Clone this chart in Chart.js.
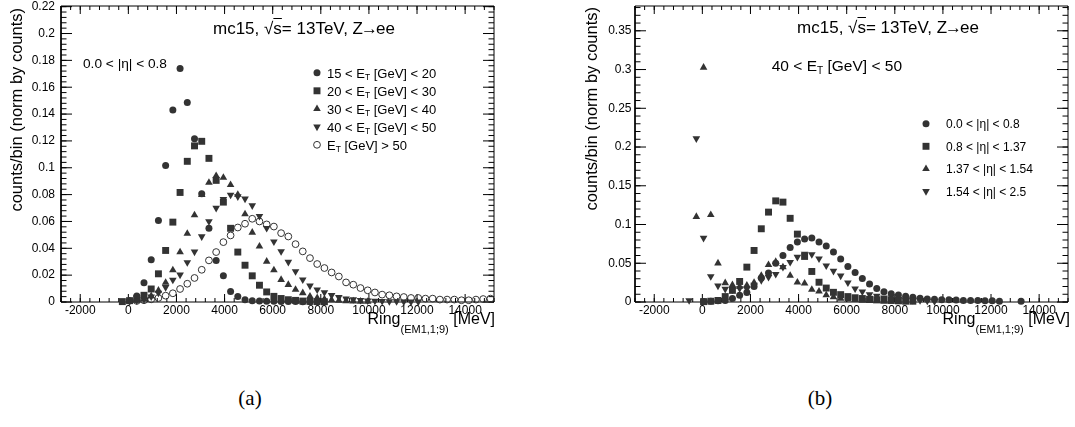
<!DOCTYPE html>
<html lang="en">
<head>
<meta charset="UTF-8">
<title>Ring EM1 distributions</title>
<script src="https://cdn.jsdelivr.net/npm/chart.js"></script>
<style>
  html, body { margin: 0; padding: 0; background: #fff; }
  body { width: 1075px; height: 427px; position: relative; overflow: hidden;
         font-family: "Liberation Sans", Arial, Helvetica, sans-serif; color: #000; }
  canvas { position: absolute; top: 0; }
  .t { position: absolute; white-space: nowrap; line-height: 1; }
  .sub { font-size: 0.65em; position: relative; top: 0.35em; }
  .arr { margin: 0 -2px; }
  .ytitle { width: 300px; text-align: right; font-size: 16.5px; transform-origin: 0 0; transform: rotate(-90deg); }
  .xtitle { font-size: 16px; }
  .xsub { font-size: 11px; position: relative; top: 9px; }
  .cap { font-family: "Liberation Serif", "DejaVu Serif", serif; font-size: 21px; transform: translateX(-50%); }
  .ov { text-decoration: overline; }
</style>
</head>
<body>
<canvas id="chartA" width="530" height="340" style="left:0px"></canvas>
<canvas id="chartB" width="501" height="340" style="left:574px"></canvas>

<!-- panel (a) texts -->
<div class="t ytitle" style="left:8px; top:308px;">counts/bin (norm by counts)</div>
<div class="t" style="left:213px; top:19.5px; font-size:17px;">mc15, √<span class="ov">s</span>= 13TeV, Z<span class="arr">→</span>ee</div>
<div class="t" style="left:83px; top:57px; font-size:13.7px;">0.0 &lt; |η| &lt; 0.8</div>
<div class="t" style="left:327px; top:66.5px; font-size:13px;">15 &lt; E<span class="sub">T</span> [GeV] &lt; 20</div>
<div class="t" style="left:327px; top:84.5px; font-size:13px;">20 &lt; E<span class="sub">T</span> [GeV] &lt; 30</div>
<div class="t" style="left:327px; top:102.5px; font-size:13px;">30 &lt; E<span class="sub">T</span> [GeV] &lt; 40</div>
<div class="t" style="left:327px; top:120.5px; font-size:13px;">40 &lt; E<span class="sub">T</span> [GeV] &lt; 50</div>
<div class="t" style="left:327px; top:138.5px; font-size:13px;">E<span class="sub">T</span> [GeV] &gt; 50</div>
<div class="t xtitle" style="right:580px; top:311px;">Ring<span class="xsub">(EM1,1;9)</span> [MeV]</div>
<div class="t cap" style="left:250px; top:388px;">(a)</div>

<!-- panel (b) texts -->
<div class="t ytitle" style="left:583px; top:307px;">counts/bin (norm by counts)</div>
<div class="t" style="right:96px; top:19px; font-size:17px;">mc15, √<span class="ov">s</span>= 13TeV, Z<span class="arr">→</span>ee</div>
<div class="t" style="right:173px; top:57.5px; font-size:15.5px;">40 &lt; E<span class="sub">T</span> [GeV] &lt; 50</div>
<div class="t" style="left:946px; top:118px; font-size:12px;">0.0 &lt; |η| &lt; 0.8</div>
<div class="t" style="left:946px; top:140.5px; font-size:12px;">0.8 &lt; |η| &lt; 1.37</div>
<div class="t" style="left:946px; top:163px; font-size:12px;">1.37 &lt; |η| &lt; 1.54</div>
<div class="t" style="left:946px; top:185.5px; font-size:12px;">1.54 &lt; |η| &lt; 2.5</div>
<div class="t xtitle" style="right:5px; top:311px;">Ring<span class="xsub">(EM1,1;9)</span> [MeV]</div>
<div class="t cap" style="left:820px; top:388px;">(b)</div>

<script>
// bin centres of Ring (EM1,1;9) [MeV]
const ringBins = [-550, -250, 50, 350, 650, 950, 1250, 1550, 1850, 2150,
  2450, 2750, 3050, 3350, 3650, 3950, 4250, 4550, 4850, 5150,
  5450, 5750, 6050, 6350, 6650, 6950, 7250, 7550, 7850, 8150,
  8450, 8750, 9050, 9350, 9650, 9950, 10250, 10550, 10850, 11150,
  11450, 11750, 12050, 12350, 12650, 12950, 13250, 13550, 13850, 14150,
  14450, 14750, 15050];

// (a) 0.0 < |eta| < 0.8, split in ET
const et15to20 = [null, null, 0.001, 0.0045, 0.0144, 0.0315, 0.0607, 0.1016, 0.143, 0.174,
  0.1487, 0.1217, 0.0806, 0.055, 0.031, 0.0196, 0.0078, 0.0041, 0.0016, 0.001,
  0.0008, 0.0006, 0.0005, 0.0004, 0.0003, 0.0003, 0.0002, 0.0002, 0.0001];
const et20to30 = [null, 0.0003, 0.001, 0.0025, 0.005, 0.0097, 0.021, 0.0384, 0.0595, 0.0816,
  0.1048, 0.1163, 0.1197, 0.107, 0.0906, 0.0744, 0.0549, 0.0372, 0.0274, 0.0195,
  0.0125, 0.0075, 0.0042, 0.0026, 0.0017, 0.0012, 0.0007, 0.0005, 0.0003, 0.0002];
const et30to40 = [null, null, 0.0005, 0.001, 0.0022, 0.0045, 0.0086, 0.0144, 0.0238, 0.0372,
  0.051, 0.0647, 0.0798, 0.089, 0.094, 0.0927, 0.0873, 0.080, 0.0655, 0.0518,
  0.0414, 0.0302, 0.0238, 0.0166, 0.0129, 0.0092, 0.0067, 0.0042, 0.003, 0.0022,
  0.0015, 0.001, 0.0008, 0.0006, 0.0004, 0.0003];
const et40to50 = [null, null, 0.0005, 0.001, 0.002, 0.004, 0.0068, 0.011, 0.0165, 0.0203,
  0.0295, 0.0374, 0.0488, 0.06, 0.07, 0.0766, 0.0798, 0.0786, 0.0769, 0.0719,
  0.064, 0.055, 0.045, 0.0377, 0.0298, 0.0228, 0.0166, 0.0121, 0.0092, 0.0072,
  0.005, 0.0035, 0.0025, 0.0019, 0.0014, 0.001, 0.0008, 0.0006, 0.0005, 0.0004,
  0.0003, 0.0002, 0.0002];
const etAbove50 = [null, null, null, 0.0008, 0.0013, 0.002, 0.003, 0.0047, 0.0065, 0.0097,
  0.0136, 0.0179, 0.024, 0.031, 0.0372, 0.0446, 0.0496, 0.0555, 0.0583, 0.062,
  0.060, 0.0578, 0.0562, 0.0513, 0.0488, 0.0431, 0.0377, 0.0327, 0.0283, 0.0253,
  0.022, 0.019, 0.0146, 0.0129, 0.0104, 0.0087, 0.0071, 0.0055, 0.005, 0.0042,
  0.0037, 0.003, 0.003, 0.0025, 0.0025, 0.0018, 0.0018, 0.0018, 0.0013, 0.0013,
  0.0018, 0.0022, 0.0025];

// (b) 40 < ET < 50 GeV, split in |eta|
const eta0to08 = [null, null, 0.0005, 0.001, 0.0015, 0.002, 0.0045, 0.0086, 0.0124, 0.020,
  0.0309, 0.0373, 0.050, 0.060, 0.0704, 0.0773, 0.0812, 0.0825, 0.0773, 0.0722,
  0.0644, 0.0554, 0.0459, 0.0382, 0.0304, 0.0232, 0.0175, 0.0133, 0.0107, 0.009,
  0.0073, 0.006, 0.005, 0.004, 0.0035, 0.003, 0.003, 0.0025, 0.002, 0.0018,
  0.0018, 0.0015, 0.0015, 0.001, null, null, 0.001];
const eta08to137 = [null, null, 0.0005, 0.001, 0.002, 0.007, 0.015, 0.0265, 0.045, 0.0665,
  0.0945, 0.116, 0.1305, 0.1289, 0.108, 0.0876, 0.0588, 0.0394, 0.0255, 0.018,
  0.0125, 0.0095, 0.007, 0.0055, 0.0045, 0.0035, 0.003, 0.0025, 0.002, 0.0015,
  0.001, 0.001];
const eta137to154 = [null, 0.110, 0.3026, 0.1125, 0.050, 0.0245, 0.022, 0.020, 0.0215, 0.025,
  0.034, 0.048, 0.052, 0.045, 0.034, 0.0253, 0.024, 0.016, 0.0137, 0.009,
  0.0065, 0.0045, 0.0035, 0.003, 0.002, 0.0015, 0.0012, 0.001, 0.0008, 0.0005];
const eta154to25 = [0.002, 0.211, 0.0825, 0.033, 0.021, 0.0168, 0.016, 0.0175, 0.017, 0.022,
  0.028, 0.032, 0.036, 0.045, 0.0515, 0.058, 0.062, 0.0615, 0.056, 0.047,
  0.04, 0.0339, 0.0249, 0.0172, 0.0133, 0.0099, 0.0077, 0.0056, 0.0045, 0.0035,
  0.003, 0.0025, 0.002, 0.0015, 0.001];

// tick labels
const xTickVals = [-2000, 0, 2000, 4000, 6000, 8000, 10000, 12000, 14000];
const yTickValsA = [0, 0.02, 0.04, 0.06, 0.08, 0.1, 0.12, 0.14, 0.16, 0.18, 0.2, 0.22];
const yTickValsB = [0, 0.05, 0.1, 0.15, 0.2, 0.25, 0.3, 0.35];

const X_MIN = -2800, X_MAX = 15200;
const ink = '#333';
const black = '#000';

const markerStyles = [
  { pointStyle: 'circle', pointRadius: 3.5, pointRotation: 0, pointBackgroundColor: ink, pointBorderColor: ink, pointBorderWidth: 0 },
  { pointStyle: 'rect', pointRadius: 4.9, pointRotation: 0, pointBackgroundColor: ink, pointBorderColor: ink, pointBorderWidth: 0 },
  { pointStyle: 'triangle', pointRadius: 4.4, pointRotation: 0, pointBackgroundColor: ink, pointBorderColor: ink, pointBorderWidth: 0 },
  { pointStyle: 'triangle', pointRadius: 4.4, pointRotation: 180, pointBackgroundColor: ink, pointBorderColor: ink, pointBorderWidth: 0 },
  { pointStyle: 'circle', pointRadius: 3.4, pointRotation: 0, pointBackgroundColor: 'rgba(0,0,0,0)', pointBorderColor: ink, pointBorderWidth: 1 }
];

function series(vals) {
  const pts = [];
  vals.forEach((v, i) => { if (v !== null && v !== undefined) pts.push({ x: ringBins[i], y: v }); });
  return pts;
}

// evenly spaced minor tick positions between lo and hi
function minorTicks(lo, hi, step) {
  const out = [];
  const n = Math.floor((hi - lo) / step + 1e-6);
  for (let i = 0; i <= n; i++) out.push(+(lo + i * step).toFixed(6));
  return out;
}

// frame box drawn as a closed line on the axis limits
function frameSet(yMax) {
  return {
    type: 'line', label: 'frame', order: 30, clip: false,
    data: [{ x: X_MIN, y: 0 }, { x: X_MAX, y: 0 }, { x: X_MAX, y: yMax }, { x: X_MIN, y: yMax }, { x: X_MIN, y: 0 }],
    borderColor: black, borderWidth: 1, pointRadius: 0, fill: false, tension: 0
  };
}

// inward tick marks drawn as 'dash' points sitting on the frame
function tickSet(pts, len, rotation) {
  return {
    type: 'scatter', label: 'ticks', order: 20, clip: false, data: pts,
    pointStyle: 'dash', pointRadius: len, pointRotation: rotation,
    pointBorderColor: black, pointBackgroundColor: black, pointBorderWidth: 1
  };
}

// legend markers, drawn with the library's own point helper
function legendMarkers(leg) {
  return {
    id: 'legendMarkers',
    afterDraw(chart) {
      const ctx = chart.ctx;
      ctx.save();
      chart.data.datasets.filter(ds => ds.isSeries).forEach((ds, i) => {
        ctx.fillStyle = ds.pointBackgroundColor;
        ctx.strokeStyle = ds.pointBorderColor;
        ctx.lineWidth = ds.pointBorderWidth;
        Chart.helpers.drawPoint(ctx, {
          pointStyle: ds.pointStyle, radius: ds.pointRadius,
          rotation: ds.pointRotation, borderWidth: ds.pointBorderWidth
        }, leg.x, leg.y + i * leg.dy);
      });
      ctx.restore();
    }
  };
}

const tickFont = { family: '"Liberation Sans", Arial, Helvetica, sans-serif', size: 12 };

function makeChart(id, sets, yTicks, yMax, yMinorStep, yPad, rightPad, leg) {
  const xMinor = minorTicks(X_MIN, X_MAX, 400);
  const yMinor = minorTicks(0, yMax, yMinorStep);
  const dataSets = sets.map((s, i) => Object.assign({
    type: 'scatter', label: s.label, data: series(s.values), order: sets.length - i,
    clip: false, showLine: false, isSeries: true
  }, markerStyles[i]));
  dataSets.push(
    frameSet(yMax),
    tickSet(xTickVals.map(v => ({ x: v, y: 0 })), 8, -90),
    tickSet(xMinor.map(v => ({ x: v, y: 0 })), 4, -90),
    tickSet(xTickVals.map(v => ({ x: v, y: yMax })), 8, 90),
    tickSet(xMinor.map(v => ({ x: v, y: yMax })), 4, 90),
    tickSet(yTicks.map(v => ({ x: X_MIN, y: v })), 11, 0),
    tickSet(yMinor.map(v => ({ x: X_MIN, y: v })), 5.5, 0),
    tickSet(yTicks.map(v => ({ x: X_MAX, y: v })), 11, 180),
    tickSet(yMinor.map(v => ({ x: X_MAX, y: v })), 5.5, 180)
  );
  return new Chart(document.getElementById(id), {
    type: 'scatter',
    data: { datasets: dataSets },
    options: {
      responsive: false,
      animation: false,
      events: [],
      layout: { autoPadding: false, padding: { top: 6, right: rightPad, bottom: 0, left: 0 } },
      plugins: { legend: { display: false }, tooltip: { enabled: false } },
      scales: {
        x: {
          type: 'linear', position: 'bottom', min: X_MIN, max: X_MAX,
          grid: { display: false, drawTicks: false }, border: { display: false },
          afterBuildTicks: s => { s.ticks = xTickVals.map(v => ({ value: v })); },
          afterFit: s => { s.height = 38; s.paddingLeft = 0; s.paddingRight = 0; },
          ticks: { color: black, font: tickFont, padding: 1, maxRotation: 0, autoSkip: false,
                   callback: v => String(v) }
        },
        y: {
          type: 'linear', position: 'left', min: 0, max: yMax,
          grid: { display: false, drawTicks: false }, border: { display: false },
          afterBuildTicks: s => { s.ticks = yTicks.map(v => ({ value: v })); },
          afterFit: s => { s.width = 61; s.paddingTop = 0; s.paddingBottom = 0; },
          ticks: { color: black, font: tickFont, padding: yPad, autoSkip: false,
                   callback: v => String(+v.toFixed(3)) }
        }
      }
    },
    plugins: [legendMarkers(leg)]
  });
}

makeChart('chartA', [
  { label: '15 < ET [GeV] < 20', values: et15to20 },
  { label: '20 < ET [GeV] < 30', values: et20to30 },
  { label: '30 < ET [GeV] < 40', values: et30to40 },
  { label: '40 < ET [GeV] < 50', values: et40to50 },
  { label: 'ET [GeV] > 50', values: etAbove50 }
], yTickValsA, 0.2205, 0.004, 6, 36, { x: 317, y: 72.8, dy: 18 });

makeChart('chartB', [
  { label: '0.0 < |eta| < 0.8', values: eta0to08 },
  { label: '0.8 < |eta| < 1.37', values: eta08to137 },
  { label: '1.37 < |eta| < 1.54', values: eta137to154 },
  { label: '1.54 < |eta| < 2.5', values: eta154to25 }
], yTickValsB, 0.382, 0.01, 3.5, 7, { x: 352, y: 123.8, dy: 22.5 });
</script>
</body>
</html>
